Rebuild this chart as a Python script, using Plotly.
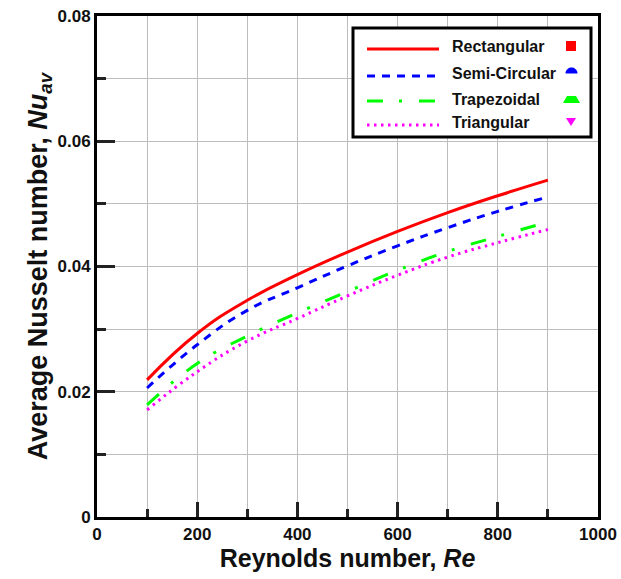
import math
import plotly.graph_objects as go

# ---- data ----
reynolds = [100, 200, 300, 400, 500, 600, 700, 800, 900]
nu_rectangular = [0.0219, 0.0293, 0.0346, 0.0387, 0.0423, 0.0456, 0.0486, 0.0513, 0.0538]
nu_semicircular = [0.0206, 0.0275, 0.0330, 0.0366, 0.0401, 0.0433, 0.0462, 0.0488, 0.0511]
nu_trapezoidal = [0.0179, 0.0245, 0.0289, 0.0326, 0.0360, 0.0394, 0.0424, 0.0448, 0.0471]
nu_triangular = [0.0171, 0.0232, 0.0281, 0.0317, 0.0353, 0.0386, 0.0415, 0.0438, 0.0459]

series_names = ["Rectangular", "Semi-Circular", "Trapezoidal", "Triangular"]
series_values = [nu_rectangular, nu_semicircular, nu_trapezoidal, nu_triangular]
series_colors = ["#ff0000", "#0000ff", "#00ff00", "#ff00ff"]
series_dash = ["solid", "8px,7px", "16px,16px,3px,17px", "2.5px,4.5px"]

FONT = "Arial, Liberation Sans, sans-serif"
W, H = 621, 579
L, R, T, B = 97, 23, 16, 62
PW, PH = W - L - R, H - T - B


def px(xp):
    return (xp - L) / PW


def py(yp):
    return (H - B - yp) / PH


fig = go.Figure()
for name, vals, col, dash in zip(series_names, series_values, series_colors, series_dash):
    fig.add_trace(go.Scatter(
        x=reynolds, y=vals, mode="lines", name=name,
        line=dict(color=col, width=3, dash=dash, shape="spline", smoothing=1.3),
        showlegend=False,
    ))

# ---- manual legend ----
shapes = []
annotations = []
shapes.append(dict(type="rect", xref="paper", yref="paper",
                   x0=px(353), x1=px(591), y0=py(28), y1=py(137),
                   line=dict(color="black", width=3), fillcolor="white", layer="above"))
row_y = [47, 74, 99, 123]
for name, col, dash, yy in zip(series_names, series_colors, series_dash, row_y):
    shapes.append(dict(type="line", xref="paper", yref="paper",
                       x0=px(367), x1=px(439), y0=py(yy + 2), y1=py(yy + 2),
                       line=dict(color=col, width=3, dash=dash), layer="above"))
    annotations.append(dict(xref="paper", yref="paper", x=px(450), y=py(yy),
                            text=name, showarrow=False, xanchor="left", yanchor="middle",
                            font=dict(family=FONT, size=16, color="#111111", weight="bold")))

# symbols at the right of the legend
shapes.append(dict(type="rect", xref="paper", yref="paper",
                   x0=px(566), x1=px(576), y0=py(41), y1=py(51),
                   line=dict(width=0), fillcolor="#ff0000", layer="above"))
cx, cy, r = 571.5, 73.5, 6
pts = [(cx + r * math.cos(math.pi * i / 18), cy - r * math.sin(math.pi * i / 18)) for i in range(19)]
shapes.append(dict(type="path", xref="paper", yref="paper",
                   path="M " + " L ".join(f"{px(a):.5f},{py(b):.5f}" for a, b in pts) + " Z",
                   line=dict(width=0), fillcolor="#0000ff", layer="above"))
tp = [(563, 103), (580, 103), (576, 96), (567, 96)]
shapes.append(dict(type="path", xref="paper", yref="paper",
                   path="M " + " L ".join(f"{px(a):.5f},{py(b):.5f}" for a, b in tp) + " Z",
                   line=dict(width=0), fillcolor="#00ff00", layer="above"))
tr = [(566, 118), (576, 118), (571, 126)]
shapes.append(dict(type="path", xref="paper", yref="paper",
                   path="M " + " L ".join(f"{px(a):.5f},{py(b):.5f}" for a, b in tr) + " Z",
                   line=dict(width=0), fillcolor="#ff00ff", layer="above"))

grid_col = "#bdbdbd"
fig.update_layout(
    width=W, height=H,
    margin=dict(l=L, r=R, t=T, b=B, autoexpand=False),
    paper_bgcolor="white", plot_bgcolor="white",
    shapes=shapes, annotations=annotations,
    font=dict(family=FONT, color="#111111"),
    xaxis=dict(
        range=[0, 1000], tickmode="linear", tick0=0, dtick=200,
        showgrid=True, gridcolor=grid_col, gridwidth=1, automargin=False,
        ticks="inside", ticklen=15, tickwidth=3, tickcolor="#222222",
        minor=dict(tickmode="linear", tick0=0, dtick=100, showgrid=True, gridcolor=grid_col, gridwidth=1,
                   ticks="inside", ticklen=8, tickwidth=3, tickcolor="#222222"),
        showline=True, linecolor="black", linewidth=3, mirror=True,
        zeroline=False,
        tickfont=dict(family=FONT, size=17, weight="bold", color="#111111"),
        title=dict(text="Reynolds number, <i>Re</i>", standoff=3,
                   font=dict(family=FONT, size=25, weight="bold", color="#111111")),
    ),
    yaxis=dict(
        range=[0, 0.08], tickmode="linear", tick0=0, dtick=0.02, tickformat="~g",
        showgrid=True, gridcolor=grid_col, gridwidth=1, automargin=False,
        ticks="inside", ticklen=18, tickwidth=3, tickcolor="#222222",
        minor=dict(tickmode="linear", tick0=0, dtick=0.01, showgrid=True, gridcolor=grid_col, gridwidth=1,
                   ticks="inside", ticklen=9, tickwidth=3, tickcolor="#222222"),
        showline=True, linecolor="black", linewidth=3, mirror=True,
        zeroline=False,
        tickfont=dict(family=FONT, size=17, weight="bold", color="#111111"),
        title=dict(text="Average Nusselt number, <i>Nu<sub>av</sub></i>", standoff=3,
                   font=dict(family=FONT, size=27, weight="bold", color="#111111")),
    ),
)

fig.write_html("out.html", config={"displayModeBar": False},
               post_script="document.body.style.margin='0';")
